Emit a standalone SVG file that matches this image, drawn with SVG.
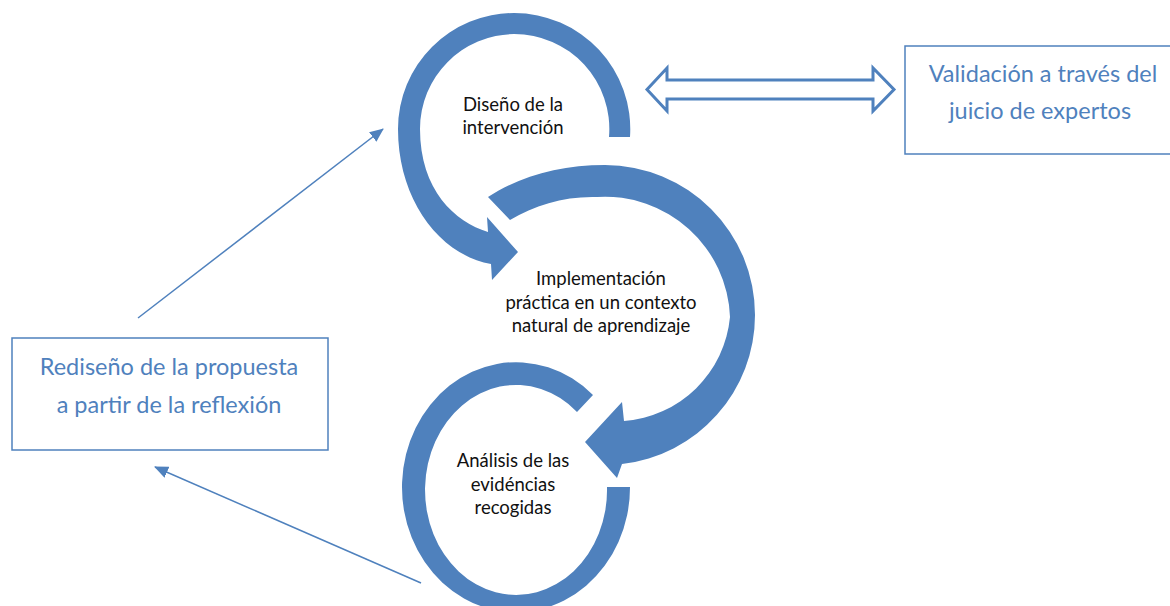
<svg xmlns="http://www.w3.org/2000/svg" width="1170" height="606" viewBox="0 0 1170 606">
  <defs>
    <style>
      .ring { fill: #4F81BD; stroke: none; }
      .rt { font-family: Lato, "Open Sans", "Liberation Sans", sans-serif; font-size: 18.5px; fill: #111111; text-anchor: middle; }
      .box { fill: #FFFFFF; stroke: #4F81BD; stroke-width: 1.5; }
      .bt { font-family: Lato, "Open Sans", "Liberation Sans", sans-serif; font-size: 23.5px; fill: #4F81BD; text-anchor: middle; }
      .conn { fill: none; stroke: #4F81BD; stroke-width: 1.5; }
      .dbl { fill: #FFFFFF; stroke: #4F81BD; stroke-width: 3; stroke-linejoin: miter; }
    </style>
    <marker id="ah" markerUnits="userSpaceOnUse" markerWidth="14" markerHeight="12" refX="13" refY="6" orient="auto">
      <path d="M0,0 L14,6 L0,12 Z" fill="#4F81BD"/>
    </marker>
  </defs>

  <g id="node-diseno">
    <path class="ring" d="M630,137 A116,116 0 0 0 514,13 A116,116 0 0 0 398,129 C398,200 440,255 491,264 L492,280 L518,252 L487,217 L488,232 C455,222 420,190 420,129 A95,95 0 0 1 514,34 A95,95 0 0 1 609,137 Z"/>
    <text class="rt" x="513" y="111">Diseño de la</text>
    <text class="rt" x="513" y="134">intervención</text>
  </g>

  <g id="node-implementacion">
    <path class="ring" d="M488,197 C520,176 560,165 605,165 A150,150 0 0 1 755,315 A150,150 0 0 1 622,464 L617,478 L585,442 L622,402 L624,421 A115,115 0 0 0 730,317 A125,125 0 0 0 597,197 C565,196 535,205 510,220 Z"/>
    <text class="rt" x="601" y="285">Implementación</text>
    <text class="rt" x="601" y="309">práctica en un contexto</text>
    <text class="rt" x="601" y="332">natural de aprendizaje</text>
  </g>

  <g id="node-analisis">
    <path class="ring" d="M593,395 A114,125 0 1 0 630,487 L607,487 A91,105 0 1 1 577,412 Z"/>
    <text class="rt" x="513" y="467">Análisis de las</text>
    <text class="rt" x="513" y="491">evidéncias</text>
    <text class="rt" x="513" y="514">recogidas</text>
  </g>

  <g id="node-validacion">
    <rect class="box" x="905" y="46" width="280" height="108"/>
    <text class="bt" x="1043" y="82">Validación a través del</text>
    <text class="bt" x="1040" y="119">juicio de expertos</text>
  </g>

  <g id="node-rediseno">
    <rect class="box" x="12" y="338" width="316" height="112"/>
    <text class="bt" x="169" y="375">Rediseño de la propuesta</text>
    <text class="bt" x="169" y="413">a partir de la reflexión</text>
  </g>

  <g id="connectors">
    <line class="conn" x1="138" y1="318" x2="383" y2="129" marker-end="url(#ah)"/>
    <line class="conn" x1="421" y1="583" x2="155" y2="467" marker-end="url(#ah)"/>
    <path class="dbl" d="M647,89.5 L667,68 L667,80 L873,80 L873,68 L894,89.5 L873,111 L873,99 L667,99 L667,111 Z"/>
  </g>
</svg>
